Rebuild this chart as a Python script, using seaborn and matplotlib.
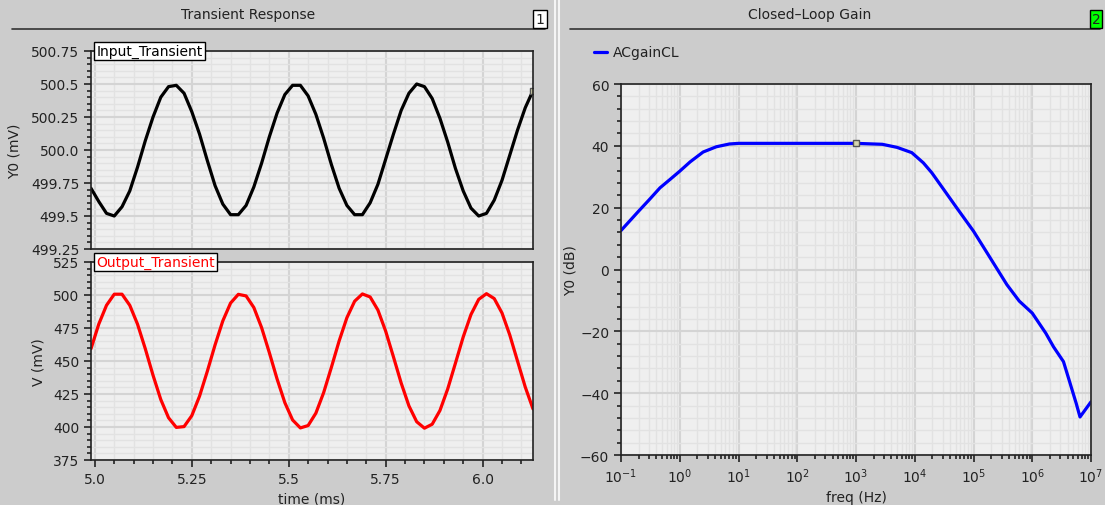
import matplotlib
matplotlib.use("Agg")
import matplotlib.pyplot as plt
from matplotlib.lines import Line2D
from matplotlib.ticker import MultipleLocator, LogLocator, NullFormatter
import seaborn as sns
import pandas as pd

# --- data ---
time_ms = [4.99, 5.01, 5.03, 5.05, 5.07, 5.09, 5.11, 5.13, 5.15, 5.17,
           5.19, 5.21, 5.23, 5.25, 5.27, 5.29, 5.31, 5.33, 5.35, 5.37,
           5.39, 5.41, 5.43, 5.45, 5.47, 5.49, 5.51, 5.53, 5.55, 5.57,
           5.59, 5.61, 5.63, 5.65, 5.67, 5.69, 5.71, 5.73, 5.75, 5.77,
           5.79, 5.81, 5.83, 5.85, 5.87, 5.89, 5.91, 5.93, 5.95, 5.97,
           5.99, 6.01, 6.03, 6.05, 6.07, 6.09, 6.11, 6.13]

input_mv = [499.71, 499.61, 499.52, 499.50, 499.57, 499.69, 499.87, 500.07, 500.25, 500.40,
            500.48, 500.49, 500.43, 500.29, 500.12, 499.92, 499.73, 499.59, 499.51, 499.51,
            499.58, 499.72, 499.90, 500.10, 500.28, 500.42, 500.49, 500.49, 500.41, 500.27,
            500.09, 499.89, 499.71, 499.58, 499.51, 499.51, 499.60, 499.74, 499.93, 500.12,
            500.30, 500.43, 500.50, 500.48, 500.39, 500.24, 500.06, 499.86, 499.69, 499.56,
            499.50, 499.52, 499.62, 499.77, 499.96, 500.15, 500.32, 500.45]

output_mv = [459.3, 477.9, 492.2, 500.6, 500.6, 492.2, 477.9, 459.3, 439.2, 420.8,
             407.0, 399.7, 400.3, 408.6, 423.4, 442.2, 462.2, 480.4, 493.9, 500.5,
             499.3, 490.5, 475.3, 456.3, 436.3, 418.4, 405.3, 399.3, 401.1, 410.5,
             426.0, 445.2, 465.2, 482.8, 495.3, 500.8, 498.5, 488.6, 472.6, 453.2,
             433.3, 416.0, 404.0, 399.1, 402.1, 412.5, 428.8, 448.4, 468.2, 485.2,
             496.7, 501.0, 497.3, 486.4, 469.8, 450.0, 430.3, 413.7]

freq_hz = [0.1, 0.2, 0.3, 0.46, 0.7, 1, 1.5, 2.5, 4.2, 7,
           10, 100, 1000, 2800, 5000, 8900, 1.4e4, 1.95e4, 3e4, 5.2e4,
           1e5, 1.7e5, 3.7e5, 6e5, 1e6, 1.7e6, 2.3e6, 3.4e6, 4.2e6, 5.6e6,
           6.5e6, 1e7]
gain_db = [12.6, 18.9, 22.5, 26.4, 29.3, 31.8, 34.8, 38.0, 39.7, 40.6,
           40.8, 40.8, 40.8, 40.5, 39.5, 37.8, 34.5, 31.3, 26.3, 19.9,
           12.4, 5.4, -4.9, -10.2, -14.1, -20.6, -25.0, -29.8, -35.5, -43.3,
           -47.7, -42.8]

time_ticks = [5.0, 5.25, 5.5, 5.75, 6.0]
time_labels = ["5.0", "5.25", "5.5", "5.75", "6.0"]
in_ticks = [499.25, 499.5, 499.75, 500.0, 500.25, 500.5, 500.75]
in_labels = ["499.25", "499.5", "499.75", "500.0", "500.25", "500.5", "500.75"]
out_ticks = [375, 400, 425, 450, 475, 500, 525]
gain_ticks = [-60, -40, -20, 0, 20, 40, 60]

df_tr = pd.DataFrame({"time": time_ms, "inp": input_mv, "out": output_mv})
df_ac = pd.DataFrame({"freq": freq_hz, "gain": gain_db})

# --- style ---
sns.set_theme(style="ticks")
bg = "#cccccc"
plt.rcParams.update({
    "font.family": ["DejaVu Sans"],
    "font.size": 10,
    "axes.labelsize": 10,
    "xtick.labelsize": 10,
    "ytick.labelsize": 10,
    "legend.fontsize": 10,
    "axes.facecolor": "#efefef",
    "figure.facecolor": bg,
    "axes.edgecolor": "#222222",
    "xtick.color": "#222222",
    "ytick.color": "#222222",
    "text.color": "#222222",
    "axes.labelcolor": "#222222",
})

W, H = 1105, 506
fig = plt.figure(figsize=(W / 100, H / 100), dpi=100)


def box(left, top, right, bottom):
    return [left / W, 1 - bottom / H, (right - left) / W, (bottom - top) / H]


def style_axes(ax):
    ax.set_axisbelow(True)
    ax.grid(which="major", color="#d4d4d4", lw=1.5)
    ax.grid(which="minor", color="#e2e2e2", lw=1.0)
    ax.tick_params(which="both", direction="out", top=False, right=False, labelsize=10, width=1.2)
    ax.tick_params(which="major", length=5)
    ax.tick_params(which="minor", length=3)
    for s in ax.spines.values():
        s.set_linewidth(1.2)
        s.set_visible(True)


ax_in = fig.add_axes(box(91, 52, 533, 250))
ax_out = fig.add_axes(box(91, 263, 533, 461))
ax_ac = fig.add_axes(box(621, 85, 1091, 456))

# Input transient
sns.lineplot(data=df_tr, x="time", y="inp", ax=ax_in, color="black", lw=2.3, sort=False)
ax_in.plot(df_tr["time"].iloc[-1], df_tr["inp"].iloc[-1], marker="s", ms=4,
           mfc="#d8d8b0", mec="#555555", mew=1)
ax_in.set_xlim(4.99, 6.13)
ax_in.set_ylim(499.25, 500.75)
ax_in.set_xticks(time_ticks)
ax_in.xaxis.set_minor_locator(MultipleLocator(0.05))
ax_in.set_yticks(in_ticks, in_labels)
ax_in.yaxis.set_minor_locator(MultipleLocator(0.05))
style_axes(ax_in)
ax_in.tick_params(axis="x", which="both", bottom=False, labelbottom=False)
ax_in.set_xlabel("")
ax_in.set_ylabel("Y0 (mV)", fontsize=10)
ax_in.yaxis.set_label_coords(-0.156, 0.5)
ax_in.text(0.012, 1.0, "Input_Transient", transform=ax_in.transAxes, va="center", ha="left",
           fontsize=10, color="black",
           bbox=dict(boxstyle="square,pad=0.15", fc="white", ec="black", lw=1))

# Output transient
sns.lineplot(data=df_tr, x="time", y="out", ax=ax_out, color="#ff0000", lw=2.3, sort=False)
ax_out.set_xlim(4.99, 6.13)
ax_out.set_ylim(375, 525)
ax_out.set_xticks(time_ticks, time_labels)
ax_out.xaxis.set_minor_locator(MultipleLocator(0.05))
ax_out.set_yticks(out_ticks)
ax_out.yaxis.set_minor_locator(MultipleLocator(5))
style_axes(ax_out)
ax_out.set_xlabel("time (ms)", fontsize=10)
ax_out.xaxis.set_label_coords(0.5, -0.16)
ax_out.set_ylabel("V (mV)", fontsize=10)
ax_out.yaxis.set_label_coords(-0.104, 0.5)
ax_out.text(0.012, 1.0, "Output_Transient", transform=ax_out.transAxes, va="center", ha="left",
            fontsize=10, color="#ff0000",
            bbox=dict(boxstyle="square,pad=0.15", fc="white", ec="black", lw=1))

# Closed-loop gain
sns.lineplot(data=df_ac, x="freq", y="gain", ax=ax_ac, color="#0000ff", lw=2.3,
             sort=False, label="ACgainCL")
ax_ac.plot(df_ac["freq"].iloc[12], df_ac["gain"].iloc[12], marker="s", ms=4,
           mfc="#d8d8b0", mec="#555555", mew=1)
ax_ac.set_xscale("log")
ax_ac.set_xlim(0.1, 1e7)
ax_ac.set_ylim(-60, 60)
ax_ac.xaxis.set_major_locator(LogLocator(base=10, numticks=12))
ax_ac.xaxis.set_minor_locator(LogLocator(base=10, subs=range(2, 10), numticks=12))
ax_ac.xaxis.set_minor_formatter(NullFormatter())
ax_ac.set_yticks(gain_ticks)
ax_ac.yaxis.set_minor_locator(MultipleLocator(4))
style_axes(ax_ac)
ax_ac.set_xlabel("freq (Hz)", fontsize=10)
ax_ac.xaxis.set_label_coords(0.5, -0.095)
ax_ac.set_ylabel("Y0 (dB)", fontsize=10)
ax_ac.yaxis.set_label_coords(-0.092, 0.5)
leg = ax_ac.legend(loc="center left", bbox_to_anchor=(-0.085, 1.085), frameon=False,
                   handlelength=1.0, handletextpad=0.4, fontsize=10)

# panel headers
fig.text(248 / W, 1 - 15 / H, "Transient Response", ha="center", va="center", fontsize=10)
fig.text(810 / W, 1 - 15 / H, "Closed\u2013Loop Gain", ha="center", va="center", fontsize=10)
fig.add_artist(Line2D([12 / W, 545 / W], [1 - 30 / H] * 2, color="#333333", lw=1.2))
fig.add_artist(Line2D([570 / W, 1100 / W], [1 - 30 / H] * 2, color="#333333", lw=1.2))
fig.text(540 / W, 1 - 20 / H, "1", ha="center", va="center", fontsize=10,
         bbox=dict(boxstyle="square,pad=0.15", fc="white", ec="black", lw=1))
fig.text(1096 / W, 1 - 20 / H, "2", ha="center", va="center", fontsize=10,
         bbox=dict(boxstyle="square,pad=0.15", fc="#00ff00", ec="black", lw=1))

# separator between the two panels
fig.add_artist(Line2D([555 / W] * 2, [0.01, 1.0], color="#f4f4f4", lw=1.5))
fig.add_artist(Line2D([559 / W] * 2, [0.01, 1.0], color="#f4f4f4", lw=1.5))

fig.savefig("out.png", dpi=100, facecolor=bg)
